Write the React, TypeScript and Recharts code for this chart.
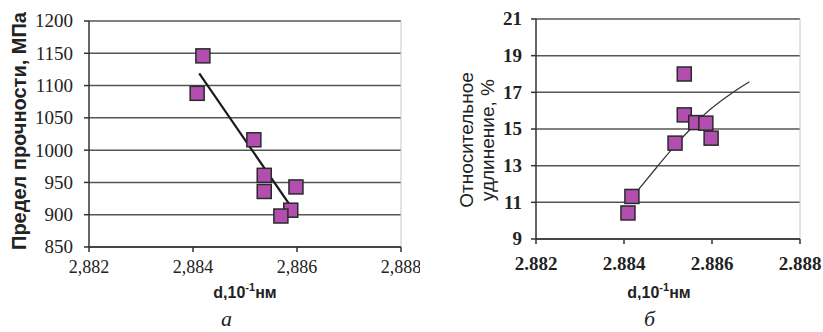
import React from 'react';
import { ScatterChart, Scatter, XAxis, YAxis, CartesianGrid, ReferenceLine } from 'recharts';

// Chart a: tensile strength vs d
const strengthD = [2.88419, 2.88408, 2.88517, 2.88537, 2.88537, 2.88598, 2.88588, 2.88569];
const strengthVal = [1146, 1088, 1016, 961, 936, 943, 907, 898];
const strengthTrendD = [2.88412, 2.88599];
const strengthTrendVal = [1119, 900];
const strengthTicksY = [850, 900, 950, 1000, 1050, 1100, 1150, 1200];

// Chart b: elongation vs d
const elongD = [2.88537, 2.88537, 2.88563, 2.88586, 2.88598, 2.88516, 2.88418, 2.88409];
const elongVal = [18.0, 15.77, 15.35, 15.32, 14.5, 14.23, 11.32, 10.42];
const elongTrendD = [2.8841, 2.88474, 2.88518, 2.88565, 2.88595, 2.88648, 2.88685];
const elongTrendVal = [11.03, 12.9, 14.15, 15.35, 16.05, 17.0, 17.58];
const elongTicksY = [9, 11, 13, 15, 17, 19, 21];

const ticksX = [2.882, 2.884, 2.886, 2.888];

const strengthData = strengthD.map((d, i) => ({ x: d, y: strengthVal[i] }));
const strengthTrend = strengthTrendD.map((d, i) => ({ x: d, y: strengthTrendVal[i] }));
const elongData = elongD.map((d, i) => ({ x: d, y: elongVal[i] }));
const elongTrend = elongTrendD.map((d, i) => ({ x: d, y: elongTrendVal[i] }));

const SERIF = 'Liberation Serif';
const SANS = 'Liberation Sans';
const FILL = '#b24fae';

const Square = (p: any) => (
  <rect x={p.cx - 7} y={p.cy - 7} width={14} height={14} fill={FILL} stroke="#2a2a2a" strokeWidth={1.5} />
);
const NoShape = () => <g />;

const makeXTick = (fmt: (v: number) => string, size: number, bold: boolean) => (p: any) => (
  <text x={p.x} y={p.y} dy="0.75em" textAnchor="middle" fontFamily={SERIF} fontSize={size} fontWeight={bold ? 700 : 400} fill="#222">
    {fmt(p.payload.value)}
  </text>
);
const makeYTick = (size: number, bold: boolean) => (p: any) => (
  <text x={p.x} y={p.y} dy="0.34em" textAnchor="end" fontFamily={SERIF} fontSize={size} fontWeight={bold ? 700 : 400} fill="#222">
    {p.payload.value}
  </text>
);

const makeXTitle = (dx: number, dy: number) => (props: any) => {
  const vb = props.viewBox || {};
  return (
    <text x={vb.x + vb.width / 2 + dx} y={vb.y + dy} textAnchor="middle" fontFamily={SANS} fontWeight={700} fontSize={16} fill="#222">
      d,10<tspan dy={-7} fontSize={11}>-1</tspan><tspan dy={7} fontSize={16}>нм</tspan>
    </text>
  );
};

const LeftYTitle = (props: any) => {
  const vb = props.viewBox || {};
  const cx = 19;
  const cy = vb.y + vb.height / 2 - 3;
  return (
    <text x={cx} y={cy} transform={`rotate(-90 ${cx} ${cy})`} textAnchor="middle" dominantBaseline="central" fontFamily={SANS} fontWeight={700} fontSize={20} fill="#222">
      Предел прочности, МПа
    </text>
  );
};

const RightYTitle = (props: any) => {
  const vb = props.viewBox || {};
  const cy = vb.y + vb.height / 2 + 11;
  const x1 = 46;
  const x2 = 67;
  return (
    <g>
      <text x={x1} y={cy} transform={`rotate(-90 ${x1} ${cy})`} textAnchor="middle" dominantBaseline="central" fontFamily={SANS} fontSize={19} fill="#222">
        Относительное
      </text>
      <text x={x2} y={cy} transform={`rotate(-90 ${x2} ${cy})`} textAnchor="middle" dominantBaseline="central" fontFamily={SANS} fontSize={19} fill="#222">
        удлинение, %
      </text>
    </g>
  );
};

export default function App() {
  return (
    <div style={{ position: 'fixed', left: 0, top: 0, width: 823, height: 332, background: '#fff' }}>
      <div style={{ position: 'absolute', left: 0, top: 0 }}>
        <ScatterChart width={420} height={300} margin={{ top: 21, right: 19, left: 0, bottom: 0 }}>
          <CartesianGrid horizontal vertical={false} stroke="#555" strokeWidth={1.5} />
          <XAxis
            type="number"
            dataKey="x"
            domain={[2.882, 2.888]}
            ticks={ticksX}
            height={53}
            tickSize={5}
            tickMargin={7}
            stroke="#333"
            strokeWidth={1.5}
            tick={makeXTick((v: number) => v.toFixed(3).replace('.', ','), 18, false)}
            label={{ content: makeXTitle(0, 51) } as any}
            allowDataOverflow
          />
          <YAxis
            type="number"
            dataKey="y"
            domain={[850, 1200]}
            ticks={strengthTicksY}
            width={89}
            tickSize={5}
            tickMargin={11}
            stroke="#333"
            strokeWidth={1.5}
            tick={makeYTick(19, false)}
            label={{ content: LeftYTitle } as any}
            allowDataOverflow
          />
          <ReferenceLine x={2.888} stroke="#c8c8c8" strokeWidth={1} />
          <Scatter data={strengthTrend} shape={NoShape} line={{ stroke: '#1a1a1a', strokeWidth: 2.2 }} lineType="joint" isAnimationActive={false} />
          <Scatter data={strengthData} shape={Square} isAnimationActive={false} />
        </ScatterChart>
      </div>
      <div style={{ position: 'absolute', left: 420, top: 0 }}>
        <ScatterChart width={403} height={300} margin={{ top: 19, right: 23, left: 0, bottom: 0 }}>
          <CartesianGrid horizontal vertical={false} stroke="#555" strokeWidth={1.5} />
          <XAxis
            type="number"
            dataKey="x"
            domain={[2.882, 2.888]}
            ticks={ticksX}
            height={61}
            tickSize={5}
            tickMargin={12}
            stroke="#333"
            strokeWidth={1.5}
            tick={makeXTick((v: number) => v.toFixed(3), 19, true)}
            label={{ content: makeXTitle(-9, 59) } as any}
            allowDataOverflow
          />
          <YAxis
            type="number"
            dataKey="y"
            domain={[9, 21]}
            ticks={elongTicksY}
            width={116}
            tickSize={5}
            tickMargin={9}
            stroke="#333"
            strokeWidth={1.5}
            tick={makeYTick(19, true)}
            label={{ content: RightYTitle } as any}
            allowDataOverflow
          />
          <ReferenceLine x={2.888} stroke="#c8c8c8" strokeWidth={1} />
          <Scatter data={elongTrend} shape={NoShape} line={{ stroke: '#333', strokeWidth: 1.2 }} lineType="joint" lineJointType="natural" isAnimationActive={false} />
          <Scatter data={elongData} shape={Square} isAnimationActive={false} />
        </ScatterChart>
      </div>
      <div style={{ position: 'absolute', left: 221, top: 306, fontFamily: SERIF, fontStyle: 'italic', fontSize: 22, color: '#222' }}>а</div>
      <div style={{ position: 'absolute', left: 644, top: 306, fontFamily: SERIF, fontStyle: 'italic', fontSize: 22, color: '#222' }}>б</div>
    </div>
  );
}
